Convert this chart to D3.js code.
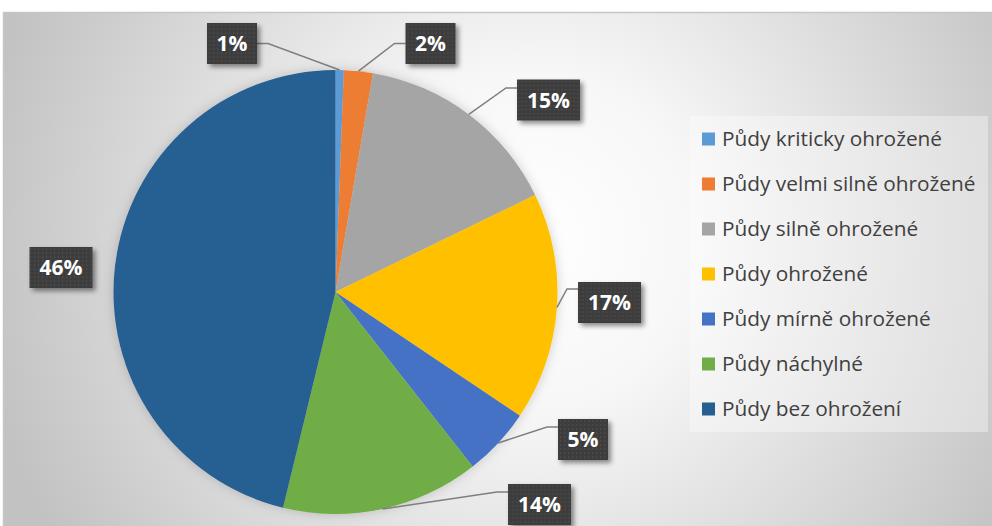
<!DOCTYPE html>
<html>
<head>
<meta charset="utf-8">
<script src="https://cdn.jsdelivr.net/npm/d3@7"></script>
<style>
    body { margin: 0; background: #fff; }
    #chart { width: 992px; height: 526px; }
    text { font-family: "Open Sans", "Noto Sans", sans-serif; }
</style>
</head>
<body>
<div id="chart"></div>
<script>
// data (percent of area)
let categories = ["Půdy kriticky ohrožené", "Půdy velmi silně ohrožené", "Půdy silně ohrožené",
    "Půdy ohrožené", "Půdy mírně ohrožené", "Půdy náchylné", "Půdy bez ohrožení"];
let values = [0.6, 2.1, 15.1, 16.6, 5.0, 14.4, 46.2];
let colors = ["#5B9BD5", "#ED7D31", "#A5A5A5", "#FFC000", "#4472C4", "#70AD47", "#255E91"];

// label box centres + where the leader line hits the box (layout, not data)
let labelLayout = [
    {cx: 232, cy: 43.5, side: "right", ay: 43.5},
    {cx: 430.5, cy: 43.5, side: "left", ay: 43.5},
    {cx: 548.5, cy: 100, side: "left", ay: 88},
    {cx: 609.5, cy: 302.5, side: "left", ay: 289},
    {cx: 583, cy: 439.5, side: "left", ay: 427},
    {cx: 539.5, cy: 504.5, side: "left", ay: 492},
    {cx: 61, cy: 267.5, side: "none", ay: 0}
];

let width = 992, height = 526;
let svg = d3.select("#chart").append("svg")
    .attr("width", width)
    .attr("height", height);

let defs = svg.append("defs");

let grad = defs.append("radialGradient")
    .attr("id", "bg")
    .attr("gradientUnits", "userSpaceOnUse")
    .attr("cx", 530).attr("cy", 240).attr("r", 560);
grad.append("stop").attr("offset", "0%").attr("stop-color", "#ffffff");
grad.append("stop").attr("offset", "30%").attr("stop-color", "#f7f7f7");
grad.append("stop").attr("offset", "100%").attr("stop-color", "#c2c2c2");

let dots = defs.append("pattern")
    .attr("id", "dots")
    .attr("patternUnits", "userSpaceOnUse")
    .attr("width", 4).attr("height", 4);
dots.append("rect").attr("width", 4).attr("height", 4).attr("fill", "#3c3c3c");
dots.append("rect").attr("x", 1).attr("y", 1).attr("width", 1.2).attr("height", 1.2).attr("fill", "#555");

let shadow = defs.append("filter").attr("id", "shadow")
    .attr("x", "-20%").attr("y", "-20%").attr("width", "150%").attr("height", "150%");
shadow.append("feDropShadow")
    .attr("dx", 3).attr("dy", 3).attr("stdDeviation", 2.5)
    .attr("flood-color", "#000").attr("flood-opacity", 0.45);

let pieShadow = defs.append("filter").attr("id", "pieShadow")
    .attr("x", "-10%").attr("y", "-10%").attr("width", "120%").attr("height", "120%");
pieShadow.append("feDropShadow")
    .attr("dx", 0).attr("dy", 0).attr("stdDeviation", 6)
    .attr("flood-color", "#000").attr("flood-opacity", 0.18);

// chart area
svg.append("rect")
    .attr("x", 3.5).attr("y", 12.5)
    .attr("width", width).attr("height", height)
    .attr("fill", "url(#bg)")
    .attr("stroke", "#c6c6c6")
    .attr("stroke-width", 1.5);

// pie
let cx = 335.5, cy = 292, radius = 222;

let pie = d3.pie().sort(null).value(d => d);
let arcs = pie(values);
let arc = d3.arc().innerRadius(0).outerRadius(radius);
let edge = d3.arc().innerRadius(radius).outerRadius(radius);

let pieG = svg.append("g")
    .attr("transform", `translate(${cx},${cy})`)
    .attr("filter", "url(#pieShadow)");

pieG.selectAll("path")
    .data(arcs)
    .enter()
    .append("path")
    .attr("d", arc)
    .attr("fill", (d, i) => colors[i]);

let boxWidth = d => String(Math.round(d.data)).length > 1 ? 63 : 50;

// leader lines
let leaders = svg.append("g");
arcs.forEach((d, i) => {
    let l = labelLayout[i];
    if (l.side === "none") return;
    let p = edge.centroid(d);
    let bw = boxWidth(d);
    let ex = l.side === "left" ? l.cx - bw / 2 : l.cx + bw / 2;
    let kx = l.side === "left" ? ex - 11 : ex + 11;
    leaders.append("path")
        .attr("d", d3.line()([[cx + p[0], cy + p[1]], [kx, l.ay], [ex, l.ay]]))
        .attr("fill", "none")
        .attr("stroke", "#7f7f7f")
        .attr("stroke-width", 1.5);
});

// data labels
let labels = svg.append("g")
    .selectAll("g")
    .data(arcs)
    .enter()
    .append("g")
    .attr("transform", (d, i) => `translate(${labelLayout[i].cx},${labelLayout[i].cy})`);

labels.append("rect")
    .attr("x", d => -boxWidth(d) / 2)
    .attr("y", -20.5)
    .attr("width", boxWidth)
    .attr("height", 41)
    .attr("fill", "url(#dots)")
    .attr("filter", "url(#shadow)");

labels.append("text")
    .attr("text-anchor", "middle")
    .attr("dy", "0.36em")
    .attr("fill", "#fff")
    .style("font-size", "21px")
    .style("font-weight", "bold")
    .text(d => Math.round(d.data) + "%");

// legend
let legend = svg.append("g")
    .attr("class", "legend")
    .attr("transform", "translate(690,116)");

legend.append("rect")
    .attr("width", 298)
    .attr("height", 316)
    .attr("fill", "#fff")
    .attr("fill-opacity", 0.35);

let items = legend.selectAll("g.item")
    .data(categories)
    .enter()
    .append("g")
    .attr("class", "item")
    .attr("transform", (d, i) => `translate(12,${23 + i * 45})`);

items.append("rect")
    .attr("x", 0)
    .attr("y", -6.5)
    .attr("width", 13)
    .attr("height", 13)
    .attr("fill", (d, i) => colors[i]);

items.append("text")
    .attr("x", 20)
    .attr("dy", "0.35em")
    .attr("fill", "#404040")
    .style("font-size", "20.8px")
    .text(d => d);
</script>
</body>
</html>
